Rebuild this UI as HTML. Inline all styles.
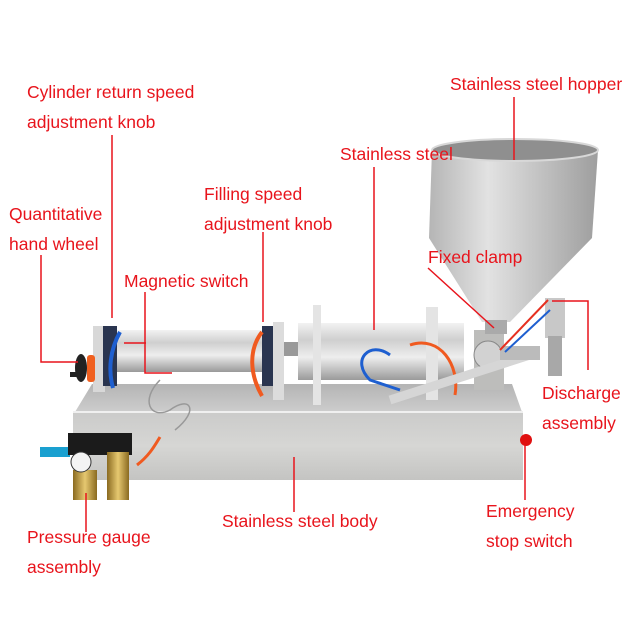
<!DOCTYPE html>
<html><head><meta charset="utf-8"><style>
html,body{margin:0;padding:0;background:#fff;width:640px;height:640px;overflow:hidden}
svg{display:block}
text{font-family:"Liberation Sans",sans-serif;font-size:17.5px;fill:#e8141c}
</style></head><body>
<svg width="640" height="640" viewBox="0 0 640 640" xmlns="http://www.w3.org/2000/svg">
<defs>
<linearGradient id="body" x1="0" y1="0" x2="0" y2="1"><stop offset="0" stop-color="#cbcbca"/><stop offset=".5" stop-color="#d6d6d4"/><stop offset="1" stop-color="#c4c4c2"/></linearGradient>
<linearGradient id="deck" x1="0" y1="0" x2="0" y2="1"><stop offset="0" stop-color="#b4b4b4"/><stop offset="1" stop-color="#cdcdcd"/></linearGradient>
<linearGradient id="cyl" x1="0" y1="0" x2="0" y2="1"><stop offset="0" stop-color="#f2f2f2"/><stop offset=".3" stop-color="#cfcfcf"/><stop offset=".6" stop-color="#eeeeee"/><stop offset="1" stop-color="#9a9a9a"/></linearGradient>
<linearGradient id="hop" x1="0" y1="0" x2="1" y2="0"><stop offset="0" stop-color="#b5b5b5"/><stop offset=".35" stop-color="#e2e2e2"/><stop offset=".6" stop-color="#c8c8c8"/><stop offset="1" stop-color="#9e9e9e"/></linearGradient>
<linearGradient id="brass" x1="0" y1="0" x2="1" y2="0"><stop offset="0" stop-color="#8a6a20"/><stop offset=".5" stop-color="#e6c870"/><stop offset="1" stop-color="#8a6a20"/></linearGradient>
</defs>
<!-- base body -->
<polygon points="92,384 512,384 522,412 75,412" fill="url(#deck)"/>
<rect x="73" y="412" width="450" height="68" fill="url(#body)"/>
<line x1="73" y1="412" x2="523" y2="412" stroke="#f0f0f0" stroke-width="2"/>
<!-- left cylinder assembly -->
<rect x="93" y="326" width="12" height="66" fill="#d8d8d8"/>
<rect x="103" y="326" width="14" height="60" fill="#2a3550"/>
<rect x="117" y="330" width="148" height="42" fill="url(#cyl)"/>
<rect x="262" y="326" width="12" height="60" fill="#2a3550"/>
<rect x="273" y="322" width="11" height="78" fill="#dcdcdc"/>
<path d="M120 332 C110 350,108 370,113 388" stroke="#1e5fd0" stroke-width="4" fill="none"/>
<path d="M262 332 C248 350,250 375,262 396" stroke="#f05a20" stroke-width="4" fill="none"/>
<ellipse cx="81" cy="368" rx="6" ry="14" fill="#222"/>
<rect x="70" y="372" width="10" height="5" fill="#222"/>
<rect x="87" y="355" width="8" height="27" rx="3" fill="#f06020"/>
<path d="M160 380 C140 400,150 420,170 410 C190 395,200 410,175 430" stroke="#999" stroke-width="1.5" fill="none"/>
<!-- second cylinder -->
<rect x="284" y="342" width="16" height="14" fill="#999"/>
<rect x="298" y="323" width="166" height="57" fill="url(#cyl)"/>
<rect x="313" y="305" width="8" height="100" fill="#e4e4e4"/>
<rect x="426" y="307" width="12" height="93" fill="#e4e4e4"/>
<path d="M390 355 C370 340,350 360,370 380 L400 390" stroke="#1e5fd0" stroke-width="3" fill="none"/>
<path d="M410 345 C440 335,460 365,455 395" stroke="#f05a20" stroke-width="3" fill="none"/>
<!-- valve body -->
<rect x="474" y="330" width="30" height="60" fill="#bdbdbb"/>
<circle cx="488" cy="355" r="14" fill="#d2d2d2" stroke="#888"/>
<line x1="390" y1="400" x2="530" y2="355" stroke="#d6d6d6" stroke-width="9"/>
<rect x="500" y="346" width="40" height="14" fill="#bbb"/>
<rect x="545" y="298" width="20" height="40" fill="#c8c8c8"/>
<rect x="548" y="336" width="14" height="40" fill="#a8a8a8"/>
<path d="M500 350 L548 300" stroke="#e63020" stroke-width="2"/>
<path d="M505 352 L550 310" stroke="#1e5fd0" stroke-width="2"/>
<!-- hopper -->
<path d="M432 150 L429 238 L482 322 L510 322 L592 238 L598 150 Z" fill="url(#hop)"/>
<ellipse cx="515" cy="150" rx="83" ry="11" fill="#8f8f8f" stroke="#d8d8d8" stroke-width="2"/>
<rect x="485" y="320" width="22" height="14" fill="#aaa"/>
<!-- pressure gauge assembly -->
<rect x="40" y="447" width="30" height="10" fill="#1aa0d0"/>
<rect x="68" y="433" width="64" height="22" fill="#1b1b1b"/>
<rect x="73" y="470" width="24" height="30" fill="url(#brass)"/>
<rect x="107" y="452" width="22" height="48" fill="url(#brass)"/>
<circle cx="81" cy="462" r="10" fill="#f4f4f4" stroke="#333"/>
<path d="M137 465 C150 455,155 445,160 437" stroke="#f05a20" stroke-width="3" fill="none"/>
<circle cx="526" cy="440" r="6" fill="#e01010"/>
<!-- connector lines -->
<g stroke="#e8141c" stroke-width="1.5" fill="none">
<path d="M112 135 V318"/>
<path d="M41 255 V362 H78"/>
<path d="M145 292 V373 H172"/>
<path d="M124 343 H146"/>
<path d="M263 232 V322"/>
<path d="M374 167 V330"/>
<path d="M514 97 V160"/>
<path d="M428 268 L494 328"/>
<path d="M552 301 H588 V370"/>
<path d="M525 445 V500"/>
<path d="M294 457 V512"/>
<path d="M86 493 V532"/>
</g>
<!-- labels -->
<text x="27" y="98">Cylinder return speed</text>
<text x="27" y="128">adjustment knob</text>
<text x="9" y="220">Quantitative</text>
<text x="9" y="250">hand wheel</text>
<text x="204" y="200">Filling speed</text>
<text x="204" y="230">adjustment knob</text>
<text x="124" y="287">Magnetic switch</text>
<text x="340" y="160">Stainless steel</text>
<text x="450" y="90">Stainless steel hopper</text>
<text x="428" y="263">Fixed clamp</text>
<text x="542" y="399">Discharge</text>
<text x="542" y="429">assembly</text>
<text x="486" y="517">Emergency</text>
<text x="486" y="547">stop switch</text>
<text x="222" y="527">Stainless steel body</text>
<text x="27" y="543">Pressure gauge</text>
<text x="27" y="573">assembly</text>
</svg>
</body></html>
